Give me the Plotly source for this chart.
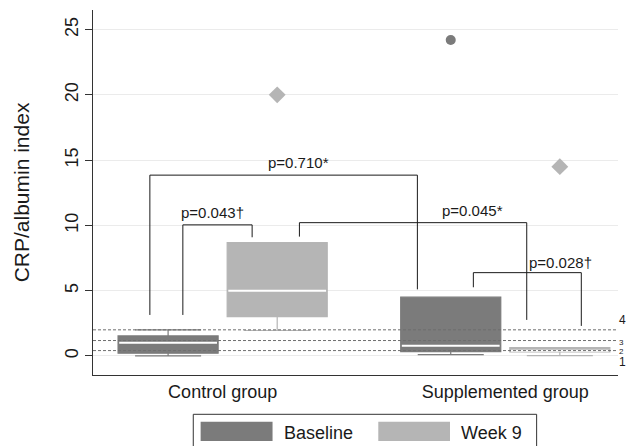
import plotly.graph_objects as go

# ---------------- data ----------------
group_labels = ["Control group", "Supplemented group"]
group_pos = [0.0, 1.0]
series_names = ["Baseline", "Week 9"]
series_offset = [-0.193, 0.193]
series_colors = ["#7b7b7b", "#b5b5b5"]

# per series: [control, supplemented]
q1 = {"Baseline": [0.21, 0.33], "Week 9": [3.01, 0.30]}
median = {"Baseline": [1.02, 0.79], "Week 9": [5.0, 0.40]}
q3 = {"Baseline": [1.53, 4.50], "Week 9": [8.68, 0.64]}
lowfence = {"Baseline": [0.0, 0.10], "Week 9": [1.95, 0.03]}
upfence = {"Baseline": [2.0, 4.50], "Week 9": [8.68, 0.64]}

# outliers
out_baseline_x = [1.0]
out_baseline_y = [24.2]
out_week9_x = [0.0, 1.0]
out_week9_y = [20.0, 14.5]

# dashed cut-off lines and their labels
cut_values = [2.0, 1.18, 0.41]
cut_labels = ["4", "3", "2", "1"]
cut_label_y = [2.73, 1.0, 0.36, -0.46]
cut_label_size = [12, 8, 8, 12]

# significance brackets: x (data), y (data), label, label position
brackets = [
    dict(x=[-0.2575, -0.2575, 0.689, 0.689], y=[3.14, 13.85, 13.85, 5.10],
         text="p=0.710*", tx=0.2695, ty=14.79),
    dict(x=[-0.1408, -0.1408, 0.1043, 0.1043], y=[3.14, 10.04, 10.04, 9.09],
         text="p=0.043\u2020", tx=-0.0354, ty=10.98),
    dict(x=[0.2716, 0.2716, 1.0759, 1.0759], y=[9.14, 10.21, 10.21, 2.76],
         text="p=0.045*", tx=0.885, ty=11.13),
    dict(x=[0.887, 0.887, 1.269, 1.269], y=[5.26, 6.38, 6.38, 2.30],
         text="p=0.028\u2020", tx=1.197, ty=7.15),
]

y_ticks = [0, 5, 10, 15, 20, 25]

# ---------------- figure ----------------
BOX_W = 0.354
XR = [-0.4587, 1.3988]
FONT = "Arial, Liberation Sans, Helvetica, sans-serif"

fig = go.Figure()

for s, col in zip(series_names, series_colors):
    off = series_offset[series_names.index(s)]
    xs = [g + off for g in group_pos]
    fig.add_trace(go.Box(
        x=xs, q1=q1[s], median=median[s], q3=q3[s],
        lowerfence=lowfence[s], upperfence=upfence[s],
        width=BOX_W, whiskerwidth=0.66,
        fillcolor=col, line=dict(color=col, width=1.2),
        name=s, showlegend=False, hoverinfo="skip",
    ))
    # white median lines
    for xc, m in zip(xs, median[s]):
        fig.add_trace(go.Scatter(
            x=[xc - BOX_W / 2 + 0.004, xc + BOX_W / 2 - 0.004], y=[m, m],
            mode="lines", line=dict(color="white", width=2),
            showlegend=False, hoverinfo="skip"))

# outliers
fig.add_trace(go.Scatter(
    x=[x + series_offset[0] for x in out_baseline_x], y=out_baseline_y,
    mode="markers", marker=dict(symbol="circle", size=10, color=series_colors[0]),
    showlegend=False, hoverinfo="skip"))
fig.add_trace(go.Scatter(
    x=[x + series_offset[1] for x in out_week9_x], y=out_week9_y,
    mode="markers", marker=dict(symbol="diamond", size=13, color=series_colors[1]),
    showlegend=False, hoverinfo="skip"))

# dashed cut-off lines
for v in cut_values:
    fig.add_trace(go.Scatter(
        x=XR, y=[v, v], mode="lines",
        line=dict(color="#6e6e6e", width=1, dash="3px,2px"),
        showlegend=False, hoverinfo="skip"))

# brackets
for b in brackets:
    fig.add_trace(go.Scatter(
        x=b["x"], y=b["y"], mode="lines",
        line=dict(color="#1a1a1a", width=1),
        showlegend=False, hoverinfo="skip"))
    fig.add_annotation(x=b["tx"], y=b["ty"], text=b["text"], showarrow=False,
                       font=dict(size=15, color="#1a1a1a", family=FONT),
                       xanchor="center", yanchor="middle")

# cut-off labels (right edge, outside plot)
for lab, ly, fs in zip(cut_labels, cut_label_y, cut_label_size):
    fig.add_annotation(x=1.0, xref="paper", xshift=0, y=ly, text=lab,
                       showarrow=False, xanchor="left", yanchor="middle",
                       borderpad=0, font=dict(size=fs, color="#1a1a1a", family=FONT))

# legend drawn manually (paper coordinates)
fig.add_shape(type="rect", xref="paper", yref="paper",
              x0=0.191, x1=0.845, y0=-0.1077, y1=-0.21,
              line=dict(color="#333333", width=1), fillcolor="white", layer="above")
leg_swatch_x = [(0.205, 0.342), (0.5434, 0.680)]
leg_text_x = [0.3594, 0.6977]
for name, col, (sx0, sx1), tx in zip(series_names, series_colors, leg_swatch_x, leg_text_x):
    fig.add_shape(type="rect", xref="paper", yref="paper",
                  x0=sx0, x1=sx1, y0=-0.128, y1=-0.181,
                  line=dict(width=0), fillcolor=col, layer="above")
    fig.add_annotation(x=tx, y=-0.1597, xref="paper", yref="paper", text=name,
                       showarrow=False, xanchor="left", yanchor="middle",
                       font=dict(size=18, color="#1a1a1a", family=FONT))

fig.update_layout(
    width=627, height=446,
    margin=dict(l=93, r=9, t=10, b=71, autoexpand=False),
    paper_bgcolor="white", plot_bgcolor="white",
    boxmode="overlay",
    showlegend=False,
    font=dict(family=FONT, color="#1a1a1a"),
    xaxis=dict(range=XR, tickvals=group_pos, ticktext=group_labels,
               showline=True, linecolor="#333333", linewidth=1,
               ticks="", showgrid=False, zeroline=False, automargin=False,
               tickfont=dict(size=18, family=FONT, color="#1a1a1a")),
    yaxis=dict(range=[-1.46, 26.5], tickvals=y_ticks, tickangle=-90,
               ticks="outside", ticklen=7, tickcolor="#333333",
               showline=True, linecolor="#333333", linewidth=1,
               showgrid=True, gridcolor="#ebebeb", gridwidth=1, zeroline=False,
               automargin=False,
               tickfont=dict(size=18, family=FONT, color="#1a1a1a"),
               title=dict(text="CRP/albumin index", standoff=26,
                          font=dict(size=21, family=FONT, color="#1a1a1a"))),
)

fig.write_html(
    "out.html",
    config={"displayModeBar": False},
    post_script="document.body.style.margin='0';document.body.style.padding='0';",
)
